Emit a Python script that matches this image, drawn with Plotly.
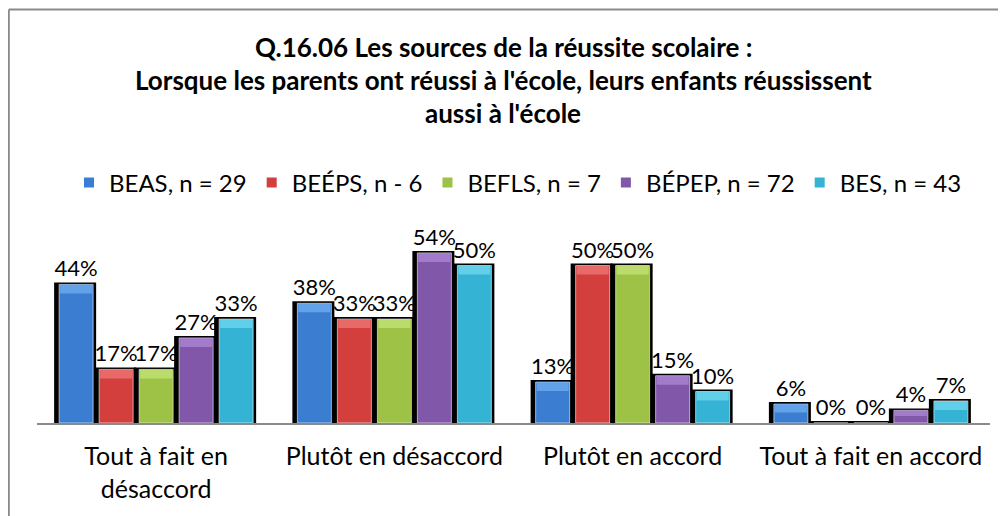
import plotly.graph_objects as go

# ---- data ----
categories = ["Tout à fait en<br>désaccord", "Plutôt en désaccord", "Plutôt en accord", "Tout à fait en accord"]
series_names = ["BEAS, n = 29", "BEÉPS, n - 6", "BEFLS, n = 7", "BÉPEP, n = 72", "BES, n = 43"]
beas = [44, 38, 13, 6]
beeps = [17, 33, 50, 0]
befls = [17, 33, 50, 0]
bepep = [27, 54, 15, 4]
bes = [33, 50, 10, 7]
series_values = [beas, beeps, befls, bepep, bes]
title_lines = [
    "Q.16.06 Les sources de la réussite scolaire :",
    "Lorsque les parents ont réussi à l'école, leurs enfants réussissent",
    "aussi à l'école",
]

# ---- style ----
colors = ["#3b7dd0", "#d23f3d", "#9dc245", "#8057a9", "#35b3d4"]
light = ["#72aef0", "#ee7a78", "#c6e47a", "#ad88d6", "#72d8f0"]
FONT = "Lato"
OFF = 8  # page body margin
W_PX, H_PX = 1006 - OFF, 516 - OFF
L, R, T, B = 37 - OFF, 990 - OFF, 234 - OFF, 423 - OFF
PW, PH = R - L, B - T
YMAX = 60.0

def xp(px):  # px in screen coordinates
    return (px - OFF - L) / PW

def yp(py):
    return (B - (py - OFF)) / PH

cat_px = PW / len(categories)
bar_w = 34 / cat_px
pitch = 40 / cat_px
sh_l = 5 / cat_px
sh_w = 8 / cat_px
sh_top = 2 * YMAX / PH
band_h = 9 * YMAX / PH

fig = go.Figure()
n = len(series_names)
for i, (name, vals) in enumerate(zip(series_names, series_values)):
    off = (i - (n - 1) / 2) * pitch - bar_w / 2
    fig.add_trace(go.Bar(
        x=categories, y=[v + sh_top for v in vals], offset=off - sh_l, width=bar_w + sh_w,
        marker=dict(color="#000000", line=dict(width=0)), showlegend=False, hoverinfo="skip",
    ))
for i, (name, vals) in enumerate(zip(series_names, series_values)):
    off = (i - (n - 1) / 2) * pitch - bar_w / 2
    fig.add_trace(go.Bar(
        x=categories, y=vals, name=name, offset=off, width=bar_w,
        marker=dict(color=colors[i], line=dict(color="#ffffff", width=0.6)),
        text=[f"{v}%" for v in vals], textposition="outside", constraintext="none",
        cliponaxis=False, outsidetextfont=dict(family=FONT, size=22, color="#000000"),
    ))
    bh = [min(band_h, v * 0.45) for v in vals]
    fig.add_trace(go.Bar(
        x=categories, y=bh, base=[v - h for v, h in zip(vals, bh)], offset=off + 1 / cat_px,
        width=bar_w - 2 / cat_px, marker=dict(color=light[i], line=dict(width=0), opacity=0.75),
        showlegend=False, hoverinfo="skip",
    ))

for k, line in enumerate(title_lines):
    fig.add_annotation(
        text=f"<b>{line}</b>", x=xp(503), y=yp([47, 80, 113][k]), xref="paper", yref="paper",
        xanchor="center", yanchor="middle", showarrow=False,
        font=dict(family=FONT, size=26, color="#000000"),
    )

fig.add_shape(type="line", xref="paper", yref="paper", x0=xp(8.8), x1=xp(8.8), y0=yp(530), y1=yp(9.5),
              line=dict(color="#8a8a8a", width=2))
fig.add_shape(type="line", xref="paper", yref="paper", x0=xp(8.8), x1=xp(1020), y0=yp(9.5), y1=yp(9.5),
              line=dict(color="#8a8a8a", width=2))

fig.update_layout(
    width=W_PX, height=H_PX,
    margin=dict(l=L, r=W_PX - R, t=T, b=H_PX - B, pad=0, autoexpand=False),
    paper_bgcolor="#ffffff", plot_bgcolor="#ffffff",
    barmode="overlay",
    font=dict(family=FONT, size=24, color="#000000"),
    showlegend=True,
    legend=dict(orientation="h", x=xp(518), xanchor="center", y=yp(183), yanchor="middle",
                font=dict(family=FONT, size=24, color="#000000"), itemsizing="constant",
                bgcolor="rgba(0,0,0,0)", traceorder="normal"),
    xaxis=dict(showline=True, linecolor="#8a8a8a", linewidth=2, ticks="", showgrid=False,
               tickfont=dict(family=FONT, size=25, color="#000000"), ticklabelstandoff=10,
               automargin=False, fixedrange=True),
    yaxis=dict(range=[0, YMAX], visible=False, showgrid=False, zeroline=False, automargin=False),
)

fig.write_html("out.html")
